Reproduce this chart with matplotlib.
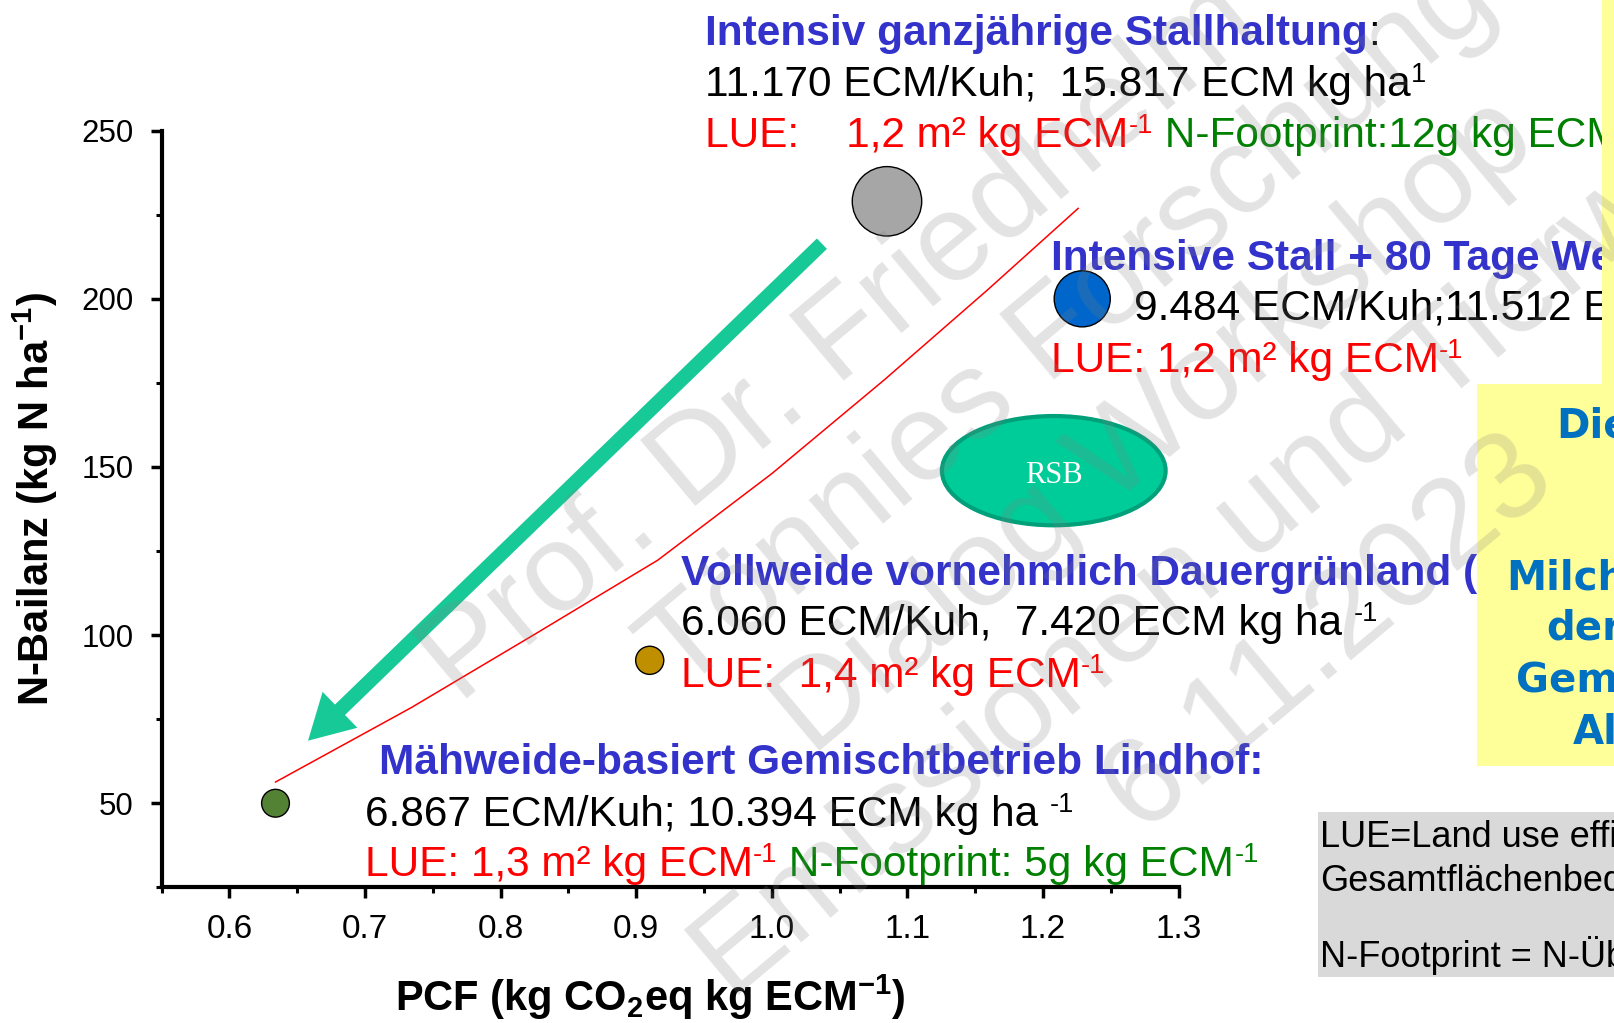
import matplotlib
matplotlib.use("Agg")
import matplotlib.pyplot as plt
import matplotlib.transforms as mtransforms
from matplotlib.patches import Ellipse, Rectangle
from matplotlib.ticker import MultipleLocator, FixedLocator
from matplotlib.font_manager import FontProperties

# ---------------------------------------------------------------- data
systems = ["Mähweide Lindhof", "Vollweide", "Intensiv Stall", "Stall + 80 Tage Weide"]
pcf = [0.634, 0.910, 1.085, 1.229]            # kg CO2eq / kg ECM
n_balance = [50.0, 92.5, 229.0, 200.0]        # kg N / ha
marker_area = [400, 410, 2500, 1630]
marker_color = ["#548235", "#BF8F00", "#A6A6A6", "#0066CC"]

trend_pcf = [0.634, 0.734, 0.825, 0.916, 1.000, 1.083, 1.159, 1.226]
trend_nbal = [56.3, 78.4, 100.2, 122.3, 148.0, 175.9, 202.6, 226.9]

rsb_center = (1.208, 148.9)
rsb_size = (0.165, 32.5)

arrow_from = (1.037, 216.4)
arrow_to = (0.658, 68.6)

xticks = [0.6, 0.7, 0.8, 0.9, 1.0, 1.1, 1.2, 1.3]
xticklabels = ["0.6", "0.7", "0.8", "0.9", "1.0", "1.1", "1.2", "1.3"]
yticks = [50, 100, 150, 200, 250]
yticklabels = ["50", "100", "150", "200", "250"]

# ---------------------------------------------------------------- style
W, H, DPI = 1614, 1023, 100
SANS = ["Liberation Sans", "DejaVu Sans"]
plt.rcParams["font.family"] = SANS
plt.rcParams["mathtext.fontset"] = "custom"
plt.rcParams["mathtext.rm"] = "Liberation Sans"
plt.rcParams["mathtext.bf"] = "Liberation Sans:bold"
plt.rcParams["mathtext.it"] = "Liberation Sans:italic"

T_BLUE = "#3333CC"
T_RED = "#FF0000"
T_GREEN = "#008000"
T_BLACK = "#000000"

fig = plt.figure(figsize=(W / DPI, H / DPI), dpi=DPI)
renderer = fig.canvas.get_renderer()
# pixel coordinates measured from the top-left corner of the figure
px = mtransforms.Affine2D().scale(1 / W, -1 / H).translate(0, 1) + fig.transFigure

L, R, T, B = 161.6, 1178.5, 130.7, 887.3
ax = fig.add_axes([L / W, 1 - B / H, (R - L) / W, (B - T) / H])
ax.set_xlim(0.55, 1.3)
ax.set_ylim(25, 250)
ax.patch.set_visible(False)

for side in ("top", "right"):
    ax.spines[side].set_visible(False)
for side in ("left", "bottom"):
    ax.spines[side].set_linewidth(3)

ax.xaxis.set_major_locator(FixedLocator(xticks))
ax.yaxis.set_major_locator(FixedLocator(yticks))
ax.xaxis.set_minor_locator(MultipleLocator(0.05))
ax.yaxis.set_minor_locator(MultipleLocator(25))
ax.set_xticklabels(xticklabels, family=["Liberation Sans Narrow", "Liberation Sans"], fontsize=24)
ax.set_yticklabels(yticklabels, fontsize=22.5)
ax.tick_params(which="major", direction="out", length=8, width=2.5, color="black")
ax.tick_params(which="minor", direction="out", length=4.5, width=2.2, color="black")
ax.tick_params(axis="x", which="major", pad=11)
ax.tick_params(axis="y", which="major", pad=12)

# trend curve, arrow, cluster ellipse and farm systems
ax.plot(trend_pcf, trend_nbal, color="red", lw=1.1, zorder=3)
ax.annotate("", xy=arrow_to, xytext=arrow_from,
            arrowprops=dict(arrowstyle="simple,head_length=1.6,head_width=1.8,tail_width=0.52",
                            mutation_scale=20, color="#17C997", lw=0,
                            shrinkA=0, shrinkB=0), zorder=3)
ax.add_patch(Ellipse(rsb_center, rsb_size[0], rsb_size[1], facecolor="#00CC99",
                     edgecolor="#00A07A", lw=3, zorder=3, clip_on=False))
ax.text(rsb_center[0], rsb_center[1] - 1.3, "RSB", family=["Liberation Serif", "DejaVu Serif"],
        fontsize=22, color="white", ha="center", va="center", zorder=4)
ax.scatter(pcf, n_balance, s=marker_area, c=marker_color, edgecolors="black",
           linewidths=1.0, zorder=5, clip_on=False)

# axis titles
fig.text(650, 1011, r"PCF (kg CO$_{\mathbf{2}}$eq kg ECM$^{\mathbf{-1}}$)", transform=px,
         fontsize=30, weight="bold", ha="center", va="baseline")
fig.text(49.4, 499, r"N-Bailanz (kg N ha$^{\mathbf{-1}}$)", transform=px,
         fontsize=30, weight="bold", ha="center", va="baseline",
         rotation=90, rotation_mode="anchor")


# ---------------------------------------------------------------- rich text
def advance(s, size, weight):
    fp = FontProperties(family=SANS, size=size, weight=weight)
    w1, _, _ = renderer.get_text_width_height_descent(s + "|", fp, ismath=False)
    w0, _, _ = renderer.get_text_width_height_descent("|", fp, ismath=False)
    return w1 - w0


def rich(x, y, parts, size=30.5, zorder=3):
    for text, color, bold, sup in parts:
        fs = size * 0.64 if sup else size
        yy = y - 0.33 * size * DPI / 72 if sup else y
        weight = "bold" if bold else "normal"
        fig.text(x, yy, text, transform=px, fontsize=fs, color=color, weight=weight,
                 ha="left", va="baseline", zorder=zorder)
        x += advance(text, fs, weight)


# Intensiv ganzjährige Stallhaltung
rich(705, 45, [("Intensiv ganzjährige Stallhaltung", T_BLUE, True, False),
               (":", T_BLACK, False, False)])
rich(705, 96, [("11.170 ECM/Kuh;  15.817 ECM kg ha", T_BLACK, False, False),
               ("1", T_BLACK, False, True)])
rich(705, 147, [("LUE:    1,2 m² kg ECM", T_RED, False, False),
                ("-1", T_RED, False, True),
                (" N-Footprint:12g kg ECM", T_GREEN, False, False),
                ("-1", T_GREEN, False, True)])

# Intensive Stall + 80 Tage Weide
rich(1051, 270, [("Intensive Stall + 80 Tage Weide", T_BLUE, True, False)])
rich(1134, 320, [("9.484 ECM/Kuh;11.512 ECM kg ha", T_BLACK, False, False),
                 ("-1", T_BLACK, False, True)])
rich(1051, 372, [("LUE: 1,2 m² kg ECM", T_RED, False, False),
                 ("-1", T_RED, False, True)])

# Vollweide
rich(681, 585, [("Vollweide vornehmlich Dauergrünland (Irland)", T_BLUE, True, False)])
rich(681, 635, [("6.060 ECM/Kuh,  7.420 ECM kg ha ", T_BLACK, False, False),
                ("-1", T_BLACK, False, True)])
rich(681, 687, [("LUE:  1,4 m² kg ECM", T_RED, False, False),
                ("-1", T_RED, False, True)])

# Mähweide Lindhof
rich(379, 774, [("Mähweide-basiert Gemischtbetrieb Lindhof:", T_BLUE, True, False)])
rich(365, 826, [("6.867 ECM/Kuh; 10.394 ECM kg ha ", T_BLACK, False, False),
                ("-1", T_BLACK, False, True)])
rich(365, 876, [("LUE: 1,3 m² kg ECM", T_RED, False, False),
                ("-1", T_RED, False, True),
                (" N-Footprint: 5g kg ECM", T_GREEN, False, False),
                ("-1", T_GREEN, False, True)])

# ---------------------------------------------------------------- side panels
YELLOW = "#FFFF99"
fig.add_artist(Rectangle((1602, 0), 12, 385, transform=px, facecolor=YELLOW,
                         edgecolor="none", zorder=6))
fig.add_artist(Rectangle((1477, 384), 137, 382, transform=px, facecolor=YELLOW,
                         edgecolor="none", zorder=6))
for word, x, y in [("Die", 1556, 437), ("Milchkühe", 1506, 590), ("der", 1546, 640),
                   ("Gemischtbetriebe", 1516, 692), ("Alle", 1573, 743)]:
    fig.text(x, y, word, transform=px, family=["DejaVu Sans"], weight="bold",
             fontsize=29, color="#0070C0", ha="left", va="baseline", zorder=7)

fig.add_artist(Rectangle((1318, 812), 296, 165, transform=px, facecolor="#D9D9D9",
                         edgecolor="none", zorder=6))
for line, y in [("LUE=Land use efficiency", 847), ("Gesamtflächenbedarf", 891),
                ("N-Footprint = N-Überschuss", 967)]:
    fig.text(1320, y, line, transform=px, fontsize=26, color="black",
             ha="left", va="baseline", zorder=7)

# ---------------------------------------------------------------- watermark
mark_lines = ["Prof. Dr. Friedhelm Taube", "Tönnies Forschung", "Dialog Workshop",
              "Emissionen und Tierwohl", "6.11.2023"]
mark_centers = [(1004, 247), (1090, 350), (1176, 452), (1263, 555), (1349, 657)]
for line, (cx, cy) in zip(mark_lines, mark_centers):
    fig.text(cx, cy, line, transform=px, fontsize=90, color="#808080", alpha=0.22,
             rotation=40, rotation_mode="anchor", ha="center", va="baseline", zorder=10)

fig.savefig("out.png", dpi=DPI)
